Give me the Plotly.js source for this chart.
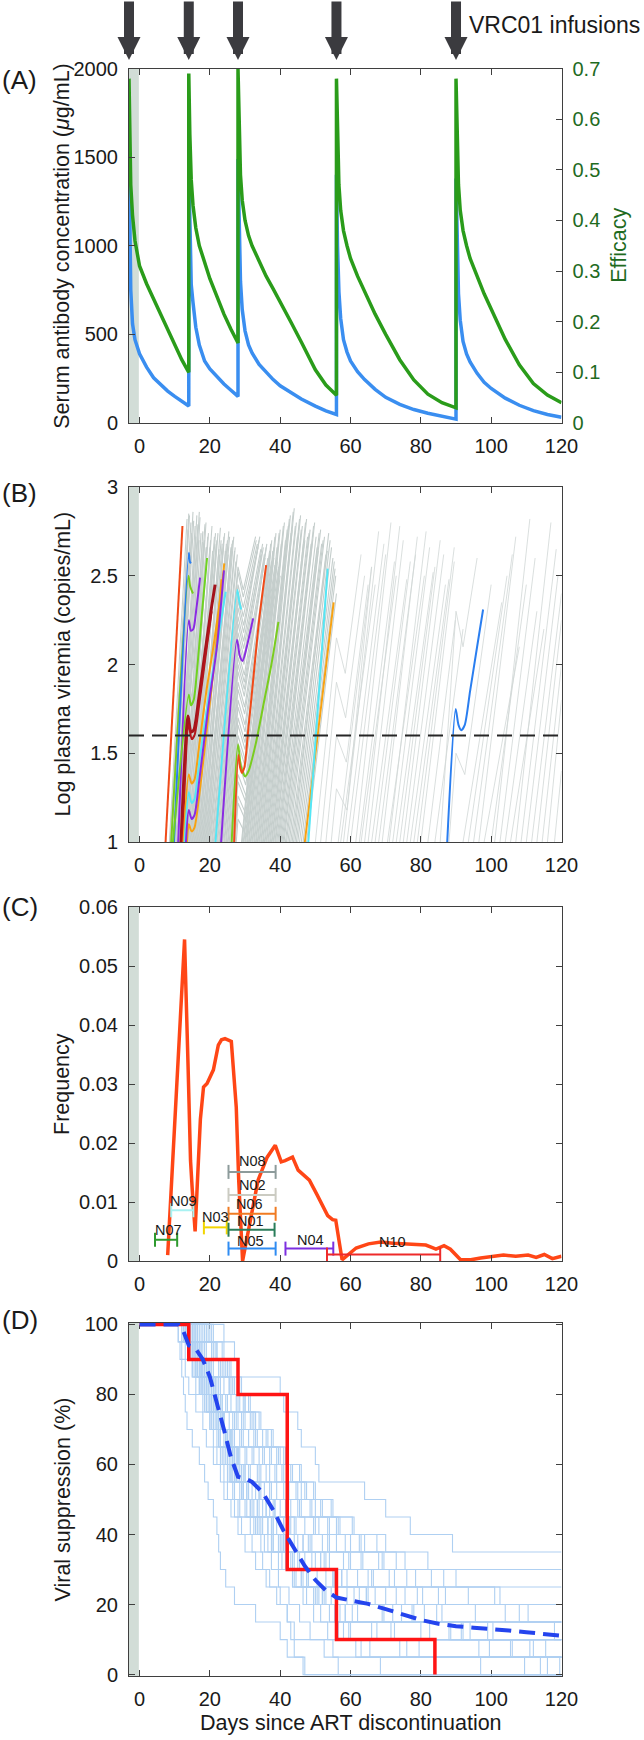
<!DOCTYPE html>
<html><head><meta charset="utf-8">
<script src="https://cdn.plot.ly/plotly-3.0.1.min.js"></script>
<style>html,body{margin:0;padding:0;background:#fff}#chart{width:644px;height:1740px}</style>
</head><body><div id="chart"></div>
<script>
// ================= DATA =================
const xTickVals = [0, 20, 40, 60, 80, 100, 120];
const xTickText = ['0', '20', '40', '60', '80', '100', '120'];
const artBand = [-3, -0.2];           // last days on ART (grey band)

// ---- Panel A: VRC01 pharmacokinetics ----
const infusionDays = [-3, 14, 28, 56, 90];
const pkDays = [
  -3, -2.8, -2.5, -2, -1.3, 0, 1, 2, 4, 6, 8, 10, 12, 14,
  14, 14.3, 14.7, 15.2, 16, 17, 18.5, 20, 22, 24, 26, 28,
  28, 28.3, 28.7, 29.2, 30, 31, 32, 34, 36, 38, 40, 43, 46, 50, 53, 56,
  56, 56.3, 56.7, 57.2, 58, 59, 60, 62, 64, 67, 70, 74, 78, 82, 86, 90,
  90, 90.3, 90.7, 91.2, 92, 93, 94, 96, 98, 100, 104, 108, 112, 116, 120];
const concValues = [
  1500, 1100, 750, 560, 470, 390, 350, 315, 255, 215, 180, 150, 120, 96,
  1450, 1050, 780, 680, 540, 440, 350, 305, 260, 220, 185, 150,
  1490, 1080, 800, 640, 520, 440, 395, 330, 285, 245, 210, 170, 135, 95, 68, 48,
  1400, 1000, 740, 590, 470, 400, 350, 290, 245, 190, 145, 105, 76, 55, 37, 22,
  1380, 990, 730, 580, 460, 390, 345, 280, 230, 195, 140, 100, 70, 48, 32];
const efficacyValues = [
  0.68, 0.58, 0.47, 0.41, 0.36, 0.31, 0.29, 0.275, 0.245, 0.215, 0.185, 0.155, 0.125, 0.10,
  0.69, 0.57, 0.48, 0.43, 0.385, 0.35, 0.315, 0.285, 0.25, 0.215, 0.185, 0.158,
  0.70, 0.58, 0.49, 0.44, 0.40, 0.37, 0.35, 0.32, 0.29, 0.265, 0.24, 0.20, 0.16, 0.105, 0.075, 0.055,
  0.68, 0.56, 0.47, 0.42, 0.38, 0.35, 0.325, 0.29, 0.26, 0.215, 0.175, 0.125, 0.085, 0.057, 0.04, 0.03,
  0.68, 0.56, 0.47, 0.42, 0.38, 0.35, 0.325, 0.29, 0.255, 0.225, 0.165, 0.115, 0.078, 0.055, 0.04];
const concTicks = [0, 500, 1000, 1500, 2000];
const effTicks = [0, 0.1, 0.2, 0.3, 0.4, 0.5, 0.6, 0.7];
const effTickText = ['0', '0.1', '0.2', '0.3', '0.4', '0.5', '0.6', '0.7'];

// ---- Panel B: simulated viremia ----
// straight rebounds: [day at log 1, end day, end log viremia]
const greyEarly = [[8.5,13.5,2.82],[8.7,13.8,2.76],[9.0,14.2,2.84],[9.2,14.0,2.85],[9.5,14.8,2.74],[9.8,14.6,2.80],[10.0,15.4,2.81],[10.3,15.2,2.86],
  [10.5,16.0,2.72],[10.8,15.8,2.78],[11.0,16.6,2.79],[11.2,16.3,2.84],[11.4,17.0,2.86],[11.6,16.9,2.70],[11.8,17.5,2.74],[12.0,17.2,2.83],
  [12.2,17.9,2.69],[12.4,18.0,2.75],[12.6,18.6,2.79],[12.8,18.3,2.68],[13.0,19.0,2.66],[13.2,18.9,2.80],[13.4,19.6,2.74],[13.6,19.4,2.72],
  [13.8,20.2,2.70],[14.0,20.0,2.66],[14.2,20.8,2.64],[14.4,20.6,2.78],[14.6,21.3,2.72],[14.8,21.0,2.62],[15.0,21.8,2.68],[15.2,21.6,2.74],
  [15.4,22.3,2.74],[15.6,22.0,2.70],[15.8,22.8,2.62],[16.0,22.6,2.65],[16.2,23.2,2.70],[16.4,23.0,2.77],[16.6,23.8,2.66],[16.8,23.5,2.68],
  [17.0,24.2,2.74],[17.2,24.0,2.72],[17.4,24.7,2.68],[17.6,24.4,2.64],[17.8,25.2,2.62],[18.0,25.0,2.70],[18.2,25.6,2.72],[18.4,25.4,2.75],
  [18.6,26.0,2.66],[18.8,25.9,2.62],[19.0,26.5,2.70],[19.2,26.3,2.68],[19.4,27.0,2.64],[19.6,26.8,2.72],[19.8,27.4,2.58],[20.0,27.2,2.66],[20.2,27.8,2.62]];
const greyLate = [[29.0,37.0,2.62],[29.2,37.3,2.68],[29.5,37.6,2.70],[29.7,37.9,2.64],[30.0,38.2,2.66],[30.2,38.5,2.72],[30.5,38.8,2.74],[30.7,39.1,2.66],
  [31.0,39.5,2.68],[31.2,39.7,2.74],[31.5,40.0,2.76],[31.7,40.3,2.68],[32.0,40.6,2.70],[32.2,40.9,2.78],[32.5,41.2,2.80],[32.7,41.5,2.70],
  [33.0,41.8,2.72],[33.2,42.0,2.76],[33.5,42.3,2.78],[33.7,42.6,2.82],[34.0,42.9,2.84],[34.2,43.1,2.74],[34.5,43.4,2.76],[34.7,43.7,2.86],
  [35.0,44.0,2.88],[35.2,44.3,2.78],[35.5,44.6,2.80],[35.7,44.9,2.72],[36.0,45.2,2.74],[36.2,45.5,2.82],[36.5,45.8,2.84],[36.7,46.0,2.76],
  [37.0,46.3,2.78],[37.2,46.6,2.68],[37.5,47.0,2.70],[37.7,47.2,2.80],[38.0,47.5,2.82],[38.2,47.8,2.72],[38.5,48.2,2.74],[38.7,48.5,2.76],
  [39.0,48.8,2.68],[39.3,49.2,2.70],[39.6,49.5,2.78],[39.9,49.8,2.80],[40.2,50.2,2.72],[40.5,50.5,2.66],[40.8,50.8,2.64],[41.1,51.1,2.74],
  [41.5,51.5,2.76],[41.8,51.8,2.68],[42.2,52.2,2.70],[42.6,52.6,2.72],[43.0,53.0,2.62],[43.4,53.4,2.64],[43.8,53.8,2.74],[44.2,54.2,2.70],
  [44.6,54.6,2.66],[45.0,55.0,2.60],[45.5,55.4,2.58],[46.0,55.6,2.54],[46.5,55.8,2.50],[47.5,56.0,2.40]];
const greySparse = [[56.5,66,2.55],[57.2,67,2.45],[58,68,2.75],[59,69.5,2.68],[60,70,2.62],[61.5,71.5,2.80],[62.5,72.5,2.58],[63,73,2.50],
  [64,74,2.78],[65,75,2.70],[66,76,2.48],[67,77,2.58],[68,78.5,2.62],[69,79,2.72],[70.5,81,2.50],[71,81.5,2.75],[72,82.5,2.66],[73,83.5,2.52],
  [74,84,2.55],[75,85.5,2.70],[76,86.5,2.62],[77,87,2.45],[78,88,2.48],[79,89.5,2.66],[80,89.5,2.58],[82,89.8,2.25],[84,92,2.20],
  [92,103,2.35],[93.5,104.5,2.50],[95,106,2.62],[96.5,107,2.72],[98,108,2.10],[100,110,2.45],[101,111,2.82],[102.5,112.5,2.60],
  [104,113,2.30],[105.5,115,2.20],[107,117,2.80],[108.5,118.5,2.65],[110,119,2.50],[111.5,120,2.40],[113,120,2.25],[114.5,120,2.00],[116,120,1.80],[118,120,1.40]];
// rebounds interrupted by an infusion: [start, infusion day, level, dip day, dip level, end day, end level]
const greyDips = [[11.0,14,2.10,15.2,1.98,18.5,2.70],[11.8,14,1.90,15.3,1.78,19.0,2.66],[12.5,14,1.60,15.4,1.50,20.0,2.62],[13.2,14,1.30,15.5,1.20,21.0,2.60],
  [20.5,28,2.55,29.5,2.42,33.0,2.72],[20.7,28,2.52,29.5,2.38,33.2,2.70],[21.0,28,2.45,29.5,2.32,33.5,2.68],[21.2,28,2.41,29.5,2.27,33.7,2.66],
  [21.5,28,2.36,29.6,2.22,34.0,2.70],[21.7,28,2.32,29.6,2.18,34.2,2.72],[22.0,28,2.27,29.6,2.13,34.5,2.65],[22.2,28,2.23,29.6,2.09,34.7,2.62],
  [22.5,28,2.18,29.7,2.04,35.0,2.68],[22.7,28,2.14,29.7,2.00,35.2,2.66],[23.0,28,2.08,29.8,1.94,35.5,2.62],[23.2,28,2.04,29.8,1.90,35.7,2.60],
  [23.5,28,2.00,29.8,1.86,36.0,2.66],[23.7,28,1.96,29.8,1.82,36.2,2.68],[24.0,28,1.90,29.9,1.76,36.5,2.60],[24.2,28,1.86,29.9,1.72,36.7,2.58],
  [24.5,28,1.80,30.0,1.66,37.0,2.64],[24.7,28,1.76,30.0,1.62,37.2,2.62],[25.0,28,1.70,30.0,1.56,37.5,2.58],[25.2,28,1.66,30.0,1.52,37.7,2.56],
  [25.5,28,1.60,30.1,1.46,38.0,2.62],[25.7,28,1.56,30.1,1.42,38.2,2.60],[26.0,28,1.50,30.2,1.36,38.5,2.56],[26.2,28,1.46,30.2,1.32,38.7,2.54],
  [26.5,28,1.38,30.3,1.26,39.0,2.60],[26.7,28,1.34,30.3,1.22,39.2,2.58],[27.0,28,1.26,30.4,1.15,39.5,2.55],[27.2,28,1.22,30.4,1.11,39.7,2.52],
  [27.5,28,1.13,30.5,1.03,40.0,2.50]];
const greySparseDips = [[50.0,56,2.15,58.5,1.95,63.0,2.62],[51.5,56,1.90,58.6,1.70,64.0,2.50],[53.0,56,1.60,58.8,1.45,65.0,2.45],[54.5,56,1.30,59.0,1.18,66.0,2.55],
  [85.5,90,2.30,92.0,2.10,96.0,2.60],[88.0,90,1.50,92.5,1.38,100.0,2.45]];
// highlighted trajectories
const hlColors = ['#f04a18','#7acc1f','#2a7ef0','#8a2be2','#6fd321','#a3141c','#b3161c','#f7a212','#f7a212','#55e6f5','#8a2be2','#8a2be2','#55e6f5','#7acc1f','#f04a18','#f7a212','#55e6f5','#2a7ef0'];
const hlWidths = [2,2,2,2,2,3,2,2,2,2,2,2,2,2,2,2,2,2];
const hlDays = [
  [7.4,12.2], [9.0,13.9,14.4,15.2], [9.8,14.0,14.3,14.6], [11.0,14.0,14.6,15.3,16.2,17.2],
  [9.5,14.0,14.6,15.4,16.5,17.8,19.2], [11.8,13.8,14.6,15.4,16.8,18.5,20.3,21.5], [12.2,14.0,14.8,15.6,17.0,18.8,20.5],
  [12.5,14.0,14.8,15.6,17.0,19.0,21.0,23.0,24.1], [13.5,14.0,14.8,15.6,17.2,19.5,21.5,23.3], [12.8,14.0,14.8,15.6,17.0,19.5,22.0,24.5],
  [13.2,14.0,14.8,15.6,17.0,19.5,22.0,24.0], [23.2,27.7,28.5,29.3,30.5,32.3], [21.6,27.8,28.3,28.9],
  [26.2,28.0,28.8,30.0,31.0,33.0,35.5,37.5,39.5], [26.9,28.1,28.6,29.1,29.8,31.0,32.5,34.0,36.0],
  [47.0,55.2], [48.0,53.5], [87.5,89.9,90.7,91.5,92.5,94.0,96.0,97.7]];
const hlLogV = [
  [1,2.78], [1,2.50,2.44,2.40], [1,2.63,2.58,2.57], [1,2.25,2.19,2.20,2.32,2.49],
  [1,1.83,1.77,1.80,2.00,2.30,2.60], [1,1.71,1.62,1.63,1.80,2.05,2.30,2.45], [1,1.66,1.58,1.60,1.78,2.05,2.30],
  [1,1.38,1.33,1.35,1.55,1.85,2.10,2.38,2.57], [1,1.10,1.06,1.08,1.30,1.70,2.05,2.48], [1,1.28,1.22,1.24,1.45,1.80,2.10,2.41],
  [1,1.18,1.13,1.15,1.35,1.75,2.10,2.53], [1,2.14,2.05,2.02,2.10,2.26], [1,2.42,2.36,2.31],
  [1,1.55,1.43,1.37,1.40,1.55,1.80,2.00,2.24], [1,1.49,1.42,1.39,1.42,1.65,1.95,2.25,2.56],
  [1,2.35], [1,2.54], [1,1.75,1.66,1.63,1.66,1.85,2.10,2.31]];
const thresholdLogV = 1.6;
const logVTicks = [1, 1.5, 2, 2.5, 3];
const logVTickText = ['1', '1.5', '2', '2.5', '3'];

// ---- Panel C: rebound-time frequency ----
const freqDays = [8, 12.8, 13.8, 14.5, 15.0, 15.8, 16.5, 17.3, 18.2, 19.2, 21, 22.4, 23.3, 24.3, 26.1, 27.5, 28.2, 29.3, 33.7, 36.3, 38.6, 40.3, 41.4, 43.5, 45.1, 48.3, 50.5, 53.5, 54.9, 55.8, 57.6, 58.7, 61.6, 65.1, 68.6, 72.1, 76.7, 81.4, 83.1, 84.3, 86.6, 88.4, 91.3, 94.2, 97, 100, 103.5, 107, 110.5, 112.8, 115.1, 117.4, 120];
const freqValues = [0.001, 0.0545, 0.033, 0.017, 0.012, 0.005, 0.014, 0.024, 0.0295, 0.0301, 0.0324, 0.0366, 0.0375, 0.0377, 0.0372, 0.0261, 0.0137, 0.0, 0.0137, 0.0176, 0.0196, 0.0168, 0.017, 0.0176, 0.0154, 0.0137, 0.0112, 0.0077, 0.007, 0.0069, 0.0002, 0.0008, 0.0022, 0.0029, 0.0032, 0.003, 0.0028, 0.0027, 0.0023, 0.002, 0.0026, 0.002, 0.0002, 0.0002, 0.0005, 0.0008, 0.001, 0.0008, 0.001, 0.0006, 0.0011, 0.0004, 0.0008];
const patientIds   = ['N07','N09','N03','N02','N06','N01','N05','N04','N10','N08'];
const reboundLo    = [4.4, 9.0, 18.3, 25.3, 25.3, 25.3, 25.3, 41.5, 53.3, 25.3];
const reboundHi    = [10.7, 15.3, 24.8, 38.7, 38.7, 38.4, 38.7, 55.1, 85.5, 38.7];
const reboundLevel = [0.0036, 0.0086, 0.0057, 0.0112, 0.0080, 0.0053, 0.0021, 0.0021, 0.0011, 0.0151];
const patientColors = ['#2e9a2e','#a8f2f2','#f2d500','#cbcbc2','#f07b22','#2a7d5a','#2f8cf2','#7d2fe0','#ee2a2a','#8d9b9b'];
const labelDay   = [8.2, 12.6, 21.6, 32.2, 31.4, 31.6, 31.6, 48.6, 71.9, 32.2];
const labelLevel = [0.0053, 0.0101, 0.0074, 0.0128, 0.0096, 0.0068, 0.0034, 0.0036, 0.0032, 0.0169];
const freqTicks = [0, 0.01, 0.02, 0.03, 0.04, 0.05, 0.06];
const freqTickText = ['0', '0.01', '0.02', '0.03', '0.04', '0.05', '0.06'];

// ---- Panel D: viral suppression ----
const trialDays = [0, 14, 28, 42, 56, 84];
const trialPct  = [100, 90, 80, 30, 10, 0];
const medianDays = [0, 11, 12.5, 14, 16, 18, 20, 22, 24, 26, 28, 30, 32, 35, 38, 41, 44, 47, 50, 53, 56, 60, 65, 70, 75, 80, 85, 90, 95, 100, 105, 110, 115, 120];
const medianPct  = [100, 100, 98, 94, 93, 90, 85, 78, 70, 62, 56.5, 56, 55, 52, 47, 41, 36, 31, 27, 24, 22, 21.3, 20.2, 18.7, 17.2, 15.6, 14.5, 13.8, 13.4, 13.1, 12.6, 12.1, 11.6, 11.1];
const simStepPct = 5;   // one of 20 simulated participants rebounds
const simEventDays = [
  [14,15,17,19,21,22,24,25,27,31,35,38,41,45,48,53,62,80],
  [11,12,13,14,16,18,19,21,23,24,26,28,30,33,36,39,42,43,44,47],
  [24,27,28,40,41,45,46,50,51,64,70,77,89],
  [13,15,16,18,20,22,23,25,26,29,32,34,38,42,46,51,56,66,74,97],
  [15,17,18,20,22,24,26,28,31,34,37,41,44,49,55,61,72,88,112],
  [12,14,16,17,19,21,23,24,26,27,30,35,40,43,46,52,57],
  [16,18,20,23,25,27,29,32,36,39,43,47,52,58,65,79],
  [13,14,15,17,19,20,22,23,25,27,28,33,38,42,44,50,54,58,63],
  [18,21,23,26,28,30,33,37,41,45,49,54,60,68,83,101],
  [14,16,19,21,22,24,26,28,29,31,34,38,42,47,53,59,69,94],
  [12,13,15,16,18,20,21,22,24,25,27,29,32,35,37,40,42,44,55],
  [17,19,21,24,26,29,31,35,39,42,46,51,56,63,71,85,108],
  [15,16,18,19,21,23,25,27,30,33,36,39,41,44,48,52,56,60,76,116],
  [20,22,25,27,30,33,36,40,43,47,52,57,64,73,90],
  [14,15,16,18,20,21,23,26,28,32,36,41,45,50,55,67],
  [13,16,17,19,22,24,27,30,34,37,40,44,48,53,59,65,78,99,111],
  [21,24,26,29,31,34,38,41,46,50,55,61,70,82],
  [16,17,19,21,23,24,26,28,30,34,38,43,49,54,62,70,86,118],
  [11,11.5,12,12.5,13,13.5,15,17,18.5,19.5,21,22,22.5,23,24.5,27,33,40,42,46.5],
  [19,22,24,27,30,32,35,39,42,46,50,56,63,69,76,87,104],
  [14,17,20,22,25,28,31,34,37,41,45,50,54,60,66,73,81,92,106,114],
  [13.5,15.5,17.5,18.5,20.5,22.5,24.5,25.5,27.5,29.5,31.5,33.5,36.5,40.5,44.5,49.5,58.5,71.5,96.5],
  [16.5,18.5,19.5,21.5,23.5,26.5,28.5,30.5,33.5,35.5,38.5,42.5,46.5,51.5,57.5,64.5,77.5,91.5],
  [12.5,14.5,15.5,17.5,18.5,20.5,22.5,23.5,25.5,26.5,28.5,31.5,35.5,39.5,43.5,47.5,51.5,56.5,61.5,68.5],
  [18.5,20.5,22.5,25.5,27.5,29.5,32.5,35.5,38.5,42.5,45.5,49.5,53.5,59.5,66.5,75.5,84.5,100.5,115.5],
  [15.5,16.5,19.5,20.5,22.5,23.5,25.5,27.5,29.5,30.5,33.5,37.5,40.5,43.5,47.5,52.5,60.5,72.5],
  [14.5,16.5,18.5,20.5,21.5,23.5,24.5,26.5,27.5,29.5,32.5,36.5,41.5,45.5,50.5,54.5,58.5,67.5,79.5,109.5],
  [17.5,20.5,23.5,25.5,28.5,31.5,33.5,37.5,40.5,44.5,48.5,53.5,58.5,63.5,72.5,80.5,95.5],
  [13.5,14.5,16.5,17.5,19.5,21.5,22.5,24.5,26.5,28.5,30.5,32.5,34.5,37.5,39.5,42.5,45.5,48.5,52.5,56.5],
  [19.5,21.5,24.5,26.5,29.5,32.5,36.5,39.5,43.5,47.5,51.5,56.5,62.5,69.5,78.5,93.5,110.5],
  [15.5,17.5,18.5,21.5,23.5,25.5,26.5,28.5,31.5,34.5,38.5,42.5,46.5,51.5,55.5,62.5,69.5,82.5,99.5],
  [12.5,15.5,17.5,19.5,20.5,22.5,24.5,26.5,27.5,29.5,31.5,34.5,37.5,41.5,43.5,46.5,49.5,53.5],
  [20.5,23.5,25.5,28.5,31.5,34.5,37.5,41.5,45.5,49.5,54.5,60.5,67.5,75.5,86.5,102.5],
  [16.5,17.5,20.5,22.5,24.5,27.5,29.5,32.5,34.5,37.5,41.5,44.5,48.5,52.5,57.5,64.5,74.5,88.5,105.5,119.5],
  [14.5,15.5,17.5,19.5,21.5,23.5,24.5,26.5,28.5,30.5,33.5,36.5,39.5,43.5,46.5,50.5,55.5,59.5,65.5]];
const pctTicks = [0, 20, 40, 60, 80, 100];

// ================= LAYOUT / STYLE =================
const W = 644, H = 1740;
const py = p => 1 - p / H;
const domX = [129 / W, 561.5 / W];
const xRange = [-3, 120];
const FONT = 'Liberation Sans, Arial, sans-serif';
const INK = '#1a1a1a', AX = '#3f3f3f', GREEN_T = '#1f6b1f';
const tickFont = {family: FONT, size: 20, color: INK};
const titleFont = {family: FONT, size: 21.5, color: INK};

const baseAxis = {showline: true, linecolor: AX, linewidth: 1, ticks: 'inside', ticklen: 6, tickwidth: 1,
  tickcolor: AX, showgrid: false, zeroline: false, tickfont: tickFont, fixedrange: true};
function xAx(anchor, extra) {
  return Object.assign({}, baseAxis, {domain: domX, range: xRange, anchor: anchor, mirror: 'ticks',
    tickvals: xTickVals, ticktext: xTickText, ticklabelstandoff: 5}, extra || {});
}
function yAx(p, range, vals, text, extra) {
  return Object.assign({}, baseAxis, {domain: [py(p[1]), py(p[0])], range: range, mirror: 'ticks',
    tickvals: vals, ticktext: text, ticklabelstandoff: 6}, extra || {});
}
// panel pixel extents (top, bottom)
const A = [68.5, 423], B = [487, 842], C = [907, 1261], D = [1323, 1676];

const traces = [];
// Panel A
traces.push({x: pkDays, y: concValues, xaxis: 'x', yaxis: 'y', mode: 'lines', line: {color: '#3a8ef0', width: 3.5}, hoverinfo: 'skip'});
traces.push({x: pkDays, y: efficacyValues, xaxis: 'x', yaxis: 'y2', mode: 'lines', line: {color: '#2a9c1a', width: 3.5}, hoverinfo: 'skip'});

// Panel B grey trajectories
function greyPaths(straight, dips) {
  const gx = [], gy = [];
  straight.forEach(([t0, t1, v1]) => { gx.push(t0, t1, null); gy.push(1, v1, null); });
  dips.forEach(([t0, ti, li, tm, lm, t1, v1]) => { gx.push(t0, ti, tm, t1, null); gy.push(1, li, lm, v1, null); });
  return [gx, gy];
}
const [dx, dy] = greyPaths(greyEarly.concat(greyLate), greyDips);
const [sx, sy] = greyPaths(greySparse, greySparseDips);
traces.push({x: dx, y: dy, xaxis: 'x2', yaxis: 'y3', mode: 'lines', line: {color: '#c5cecc', width: 1.1}, hoverinfo: 'skip'});
traces.push({x: sx, y: sy, xaxis: 'x2', yaxis: 'y3', mode: 'lines', line: {color: '#d0d7d6', width: 0.8}, hoverinfo: 'skip'});
hlDays.forEach((d, i) => traces.push({x: d, y: hlLogV[i], xaxis: 'x2', yaxis: 'y3', mode: 'lines',
  line: {color: hlColors[i], width: hlWidths[i], shape: 'spline', smoothing: 0.7}, hoverinfo: 'skip'}));
traces.push({x: xRange, y: [thresholdLogV, thresholdLogV], xaxis: 'x2', yaxis: 'y3', mode: 'lines',
  line: {color: '#262626', width: 1.8, dash: '15px,8px'}, hoverinfo: 'skip'});

// Panel C
traces.push({x: freqDays, y: freqValues, xaxis: 'x3', yaxis: 'y4', mode: 'lines', line: {color: '#ff4616', width: 3.5}, hoverinfo: 'skip'});
patientIds.forEach((id, i) => traces.push({x: [reboundLo[i], reboundHi[i]], y: [reboundLevel[i], reboundLevel[i]],
  xaxis: 'x3', yaxis: 'y4', mode: 'lines+markers', line: {color: patientColors[i], width: 2},
  marker: {symbol: 'line-ns', size: 10, line: {color: patientColors[i], width: 2}}, hoverinfo: 'skip', cliponaxis: false}));

// Panel D
simEventDays.forEach(ev => {
  const xs = [0], ys = [100];
  ev.forEach((d, k) => { xs.push(d); ys.push(100 - simStepPct * (k + 1)); });
  xs.push(120); ys.push(ys[ys.length - 1]);
  traces.push({x: xs, y: ys, xaxis: 'x4', yaxis: 'y5', mode: 'lines', line: {color: '#afd0f2', width: 1.1, shape: 'hv'}, hoverinfo: 'skip'});
});
traces.push({x: trialDays, y: trialPct, xaxis: 'x4', yaxis: 'y5', mode: 'lines', line: {color: '#ff1414', width: 3.5, shape: 'hv'}, hoverinfo: 'skip'});
traces.push({x: medianDays, y: medianPct, xaxis: 'x4', yaxis: 'y5', mode: 'lines', line: {color: '#2444ee', width: 4, dash: '16px,8px'}, hoverinfo: 'skip'});

// ART band in each panel
const shapes = [['x', 'y'], ['x2', 'y3'], ['x3', 'y4'], ['x4', 'y5']].map(([xr, yr]) => ({
  type: 'rect', xref: xr, yref: yr + ' domain', x0: artBand[0], x1: artBand[1], y0: 0, y1: 1,
  fillcolor: '#d2ddd7', line: {width: 0}, layer: 'below'}));

const annotations = [];
infusionDays.forEach(d => annotations.push({x: d, y: py(60), xref: 'x', yref: 'paper', text: '', showarrow: true,
  ax: 0, ay: -60, arrowhead: 2, arrowsize: 0.46, arrowwidth: 10, arrowcolor: '#3b3b3f', standoff: 0}));
annotations.push({x: 93.2, y: py(25), xref: 'x', yref: 'paper', xanchor: 'left', yanchor: 'middle',
  text: 'VRC01 infusions', showarrow: false, font: {family: FONT, size: 23, color: INK}});
[['(A)', 80], ['(B)', 493], ['(C)', 907], ['(D)', 1320]].forEach(([t, y]) => annotations.push({
  x: 0, y: py(y), xref: 'paper', yref: 'paper', xanchor: 'left', yanchor: 'middle', text: t,
  showarrow: false, font: {family: FONT, size: 26, color: INK}}));
// y-axis titles
[['Serum antibody concentration (<i>μ</i>g/mL)', A], ['Log plasma viremia (copies/mL)', B], ['Frequency', C], ['Viral suppression (%)', D]]
  .forEach(([t, p]) => annotations.push({x: 62 / W, y: py((p[0] + p[1]) / 2), xref: 'paper', yref: 'paper',
    xanchor: 'center', yanchor: 'middle', textangle: -90, text: t, showarrow: false, font: titleFont}));
annotations.push({x: 619 / W, y: py((A[0] + A[1]) / 2), xref: 'paper', yref: 'paper', xanchor: 'center', yanchor: 'middle',
  textangle: -90, text: 'Efficacy', showarrow: false, font: {family: FONT, size: 21.5, color: GREEN_T}});
annotations.push({x: 60, y: py(1723), xref: 'x4', yref: 'paper', xanchor: 'center', yanchor: 'middle',
  text: 'Days since ART discontinuation', showarrow: false, font: titleFont});
patientIds.forEach((id, i) => annotations.push({x: labelDay[i], y: labelLevel[i], xref: 'x3', yref: 'y4',
  text: id, showarrow: false, font: {family: FONT, size: 14.5, color: INK}}));

const layout = {
  width: W, height: H, margin: {l: 0, r: 0, t: 0, b: 0}, showlegend: false,
  paper_bgcolor: '#fff', plot_bgcolor: 'rgba(0,0,0,0)', font: {family: FONT, color: INK},
  xaxis: xAx('y'),
  yaxis: yAx(A, [0, 2000], concTicks, concTicks.map(String), {mirror: false}),
  yaxis2: Object.assign({}, baseAxis, {overlaying: 'y', side: 'right', anchor: 'x', range: [0, 0.7],
    tickvals: effTicks, ticktext: effTickText, tickfont: {family: FONT, size: 20, color: GREEN_T}, ticklabelstandoff: 6}),
  xaxis2: xAx('y3'),
  yaxis3: yAx(B, [1, 3], logVTicks, logVTickText),
  xaxis3: xAx('y4'),
  yaxis4: yAx(C, [0, 0.06], freqTicks, freqTickText),
  xaxis4: xAx('y5', {layer: 'below traces'}),
  yaxis5: yAx(D, [-0.4, 100.4], pctTicks, pctTicks.map(String)),
  shapes: shapes, annotations: annotations
};

Plotly.newPlot('chart', traces, layout, {staticPlot: true, displayModeBar: false});
</script>
</body></html>
